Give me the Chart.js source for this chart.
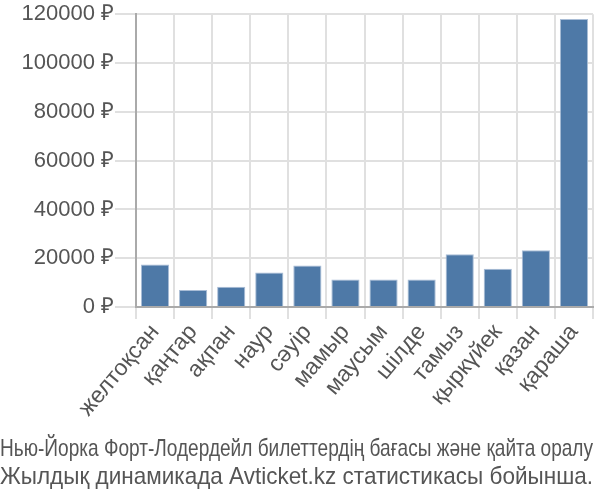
<!DOCTYPE html>
<html>
<head>
<meta charset="utf-8">
<script src="https://cdn.jsdelivr.net/npm/chart.js@4"></script>
<style>
  html, body { margin: 0; padding: 0; background: #fff; }
  #wrap { width: 600px; height: 500px; }
</style>
</head>
<body>
<div id="wrap"><canvas id="priceChart" width="600" height="500"></canvas></div>
<script>
const months = ['желтоқсан', 'қаңтар', 'ақпан', 'наур', 'сәуір', 'мамыр', 'маусым', 'шілде', 'тамыз', 'қыркүйек', 'қазан', 'қараша'];
const prices = [17500, 7000, 8300, 14200, 17000, 11300, 11300, 11300, 21700, 15700, 23300, 118000];
const yTicks = [0, 20000, 40000, 60000, 80000, 100000, 120000];
const titleLines = ['Нью-Йорка Форт-Лодердейл билеттердің бағасы және қайта оралу', 'Жылдық динамикада Avticket.kz статистикасы бойынша.'];

const baseFont = 'Liberation Sans, Arial, sans-serif';

new Chart(document.getElementById('priceChart'), {
  type: 'bar',
  data: {
    labels: months,
    datasets: [{
      data: prices,
      backgroundColor: '#4e79a7',
      borderColor: '#a9bdd6',
      borderWidth: 1,
      categoryPercentage: 0.74,
      barPercentage: 1
    }]
  },
  options: {
    responsive: false,
    animation: false,
    layout: { padding: { top: 8, right: 7, left: 0, bottom: 0 } },
    plugins: {
      legend: { display: false },
      tooltip: { enabled: false },
      title: {
        display: true,
        position: 'bottom',
        text: titleLines,
        color: '#555',
        font: { family: baseFont, size: 23.4, weight: 'normal', lineHeight: 1.2 },
        padding: { top: 14, bottom: 8 }
      }
    },
    scales: {
      x: {
        grid: { offset: true, color: '#e0e0e0', lineWidth: 2, tickLength: 12 },
        border: { color: '#aaa', width: 2 },
        ticks: {
          color: '#555',
          autoSkip: false,
          minRotation: 50,
          maxRotation: 50,
          font: { family: baseFont, size: 23 },
          padding: 0
        }
      },
      y: {
        min: 0,
        max: 120000,
        afterBuildTicks: axis => { axis.ticks = yTicks.map(v => ({ value: v })); },
        afterFit: axis => { axis.width = 136; },
        grid: { color: '#e0e0e0', lineWidth: 2, tickLength: 21 },
        border: { color: '#aaa', width: 2 },
        ticks: {
          color: '#555',
          padding: 1,
          font: { family: baseFont, size: 22 },
          callback: v => v + ' ₽'
        }
      }
    }
  }
});
</script>
</body>
</html>
